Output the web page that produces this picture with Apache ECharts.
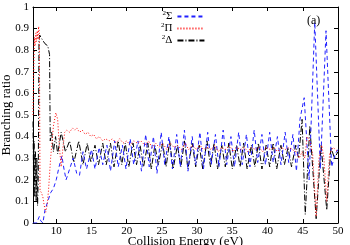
<!DOCTYPE html>
<html><head><meta charset="utf-8">
<script src="https://cdn.jsdelivr.net/npm/echarts@6/dist/echarts.min.js"></script>
<style>html,body{margin:0;padding:0;background:#fff}#c{width:350px;height:245px}</style>
</head><body><div id="c"></div>
<script>
var xTicks = [10, 15, 20, 25, 30, 35, 40, 45, 50];
var seriesNames = ['Σ', 'Π', 'Δ'];

var sigmaE = [6.7,7.2,7.4,7.6,7.8,8.1,8.4,8.8,9.2,9.6,10.0,10.4,10.8,11.1,11.4,11.9,12.4,12.9,13.3,13.8,14.3,
  15.0,15.5,16.1,16.6,17.2,17.7,18.3,18.8,19.4,19.9,20.5,21.0,21.6,22.1,22.7,23.2,23.8,24.3,24.9,25.4,26.0,26.5,
  27.1,27.6,28.2,28.7,29.3,29.8,30.4,30.9,31.5,32.0,32.6,33.1,33.7,34.2,34.8,35.3,35.9,36.4,37.0,37.5,38.1,38.6,
  39.2,39.7,40.3,40.8,41.4,41.9,42.5,43.0,43.6,44.1,44.6,45.2,45.9,46.7,47.5,48.3,49.1,49.6,50.0];
var sigmaV = [0,0,0,0.03,0.01,0,0.06,0.1,0.14,0.16,0.2,0.26,0.31,0.25,0.2,0.25,0.3,0.23,0.22,0.33,0.25,
  0.34,0.25,0.35,0.27,0.36,0.24,0.38,0.26,0.36,0.25,0.39,0.27,0.38,0.24,0.41,0.26,0.4,0.23,0.42,0.27,0.4,0.25,
  0.41,0.26,0.43,0.24,0.4,0.27,0.42,0.25,0.42,0.27,0.41,0.26,0.43,0.27,0.4,0.26,0.42,0.27,0.41,0.26,0.43,0.28,
  0.41,0.27,0.42,0.28,0.4,0.27,0.42,0.28,0.41,0.24,0.48,0.58,0.2,0.93,0.25,0.89,0.26,0.32,0.34];

var piE = [6.7,6.8,6.9,7.0,7.1,7.2,7.3,7.4,7.5,7.6,7.7,7.9,8.1,8.3,8.5,8.7,8.9,9.2,9.6,9.95,10.2,10.45,10.7,10.95,
  11.2,11.5,11.9,12.3,12.6,12.9,13.3,13.7,14.1,14.5,14.9,15.3,15.7,16.1,16.6,17.0,17.5,18.0,18.5,19.0,19.5,20.0,
  20.5,21.0,21.5,22.0,22.6,23.1,23.6,24.1,24.6,25.1,25.7,26.2,26.7,27.2,27.8,28.3,28.8,29.3,29.9,30.4,30.9,31.4,
  32.0,32.5,33.0,33.5,34.1,34.6,35.1,35.6,36.2,36.7,37.2,37.7,38.3,38.8,39.3,39.8,40.4,40.9,41.4,41.9,42.5,43.0,
  43.5,44.0,44.5,44.9,45.3,45.6,46.0,46.4,46.9,47.3,47.7,48.0,48.4,48.8,49.3,50.0];
var piV = [0.5,0.7,0.86,0.82,0.88,0.84,0.89,0.85,0.91,0.88,0.15,0.14,0.12,0.08,0.05,0.08,0.15,0.3,0.45,0.51,0.48,0.35,0.26,0.35,
  0.42,0.43,0.42,0.44,0.43,0.44,0.42,0.43,0.41,0.42,0.4,0.41,0.39,0.4,0.38,0.39,0.38,0.39,0.37,0.39,0.37,0.38,
  0.36,0.38,0.37,0.38,0.36,0.38,0.35,0.37,0.35,0.37,0.34,0.37,0.35,0.36,0.34,0.37,0.34,0.36,0.34,0.36,0.34,0.35,
  0.34,0.36,0.33,0.35,0.34,0.36,0.33,0.35,0.34,0.35,0.33,0.35,0.34,0.35,0.33,0.35,0.34,0.35,0.33,0.35,0.34,0.35,
  0.34,0.33,0.3,0.33,0.3,0.4,0.38,0.32,0.03,0.3,0.36,0.3,0.1,0.32,0.35,0.33];

var deltaE = [6.7,6.78,6.85,6.95,7.05,7.15,7.25,7.35,7.45,7.55,7.65,8.0,8.4,8.8,9.05,9.15,9.35,9.6,9.9,10.2,10.7,11.3,11.9,
  12.5,13.2,13.8,14.4,14.9,15.5,16.0,16.6,17.1,17.7,18.2,18.8,19.3,19.8,20.3,20.9,21.4,21.9,22.4,23.0,23.5,24.0,
  24.5,25.1,25.6,26.1,26.6,27.2,27.7,28.2,28.7,29.3,29.8,30.3,30.8,31.4,31.9,32.4,32.9,33.5,34.0,34.5,35.0,35.6,
  36.1,36.6,37.1,37.7,38.2,38.7,39.2,39.8,40.3,40.8,41.3,41.9,42.4,42.9,43.4,44.0,44.4,44.9,45.35,46.0,46.9,47.6,
  48.4,49.0,49.5,50.0];
var deltaV = [0.47,0.2,0.38,0.12,0.33,0.1,0.3,0.08,0.22,0.85,0.87,0.85,0.83,0.82,0.78,0.38,0.42,0.33,0.4,0.32,0.42,0.33,0.38,
  0.28,0.38,0.27,0.37,0.28,0.36,0.27,0.37,0.27,0.37,0.26,0.38,0.27,0.37,0.26,0.37,0.27,0.36,0.26,0.37,0.25,0.36,
  0.27,0.37,0.26,0.38,0.25,0.36,0.26,0.38,0.25,0.37,0.26,0.36,0.25,0.38,0.26,0.37,0.25,0.36,0.26,0.37,0.25,0.36,
  0.26,0.37,0.25,0.36,0.26,0.37,0.25,0.36,0.26,0.37,0.25,0.36,0.27,0.35,0.26,0.36,0.3,0.48,0.04,0.45,0.02,0.36,
  0.06,0.35,0.3,0.33];

function pairs(xs, ys) { return xs.map(function (x, i) { return [x, ys[i]]; }); }

var FONT = '"Liberation Serif", "DejaVu Serif", serif';
var chart = echarts.init(document.getElementById('c'), null, {renderer: 'canvas'});
var axisCommon = {
  axisLine: {show: true, onZero: false, lineStyle: {color: '#000', width: 1}},
  splitLine: {show: false}
};
chart.setOption({
  animation: false,
  backgroundColor: '#fff',
  grid: {left: 33, right: 12, top: 7, bottom: 22, containLabel: false, outerBoundsMode: 'none'},
  title: {text: '(a)', left: 302, top: 10, textStyle: {fontFamily: FONT, fontSize: 12, fontWeight: 'normal', color: '#000'}},
  legend: {
    orient: 'vertical', left: 156, top: 5, align: 'right', itemWidth: 27, itemHeight: 6, itemGap: 0,
    data: seriesNames,
    itemStyle: {opacity: 0},
    formatter: function (n) { return '{s|2}{b|' + n + '}'; },
    textStyle: {
      fontFamily: FONT, color: '#000', lineHeight: 9,
      rich: {s: {fontSize: 7, fontFamily: FONT, padding: [0, 0, 6, 0]}, b: {fontSize: 11, fontFamily: FONT}}
    }
  },
  xAxis: [
    Object.assign({type: 'value', min: 6.7, max: 50, position: 'bottom',
      name: 'Collision Energy (eV)', nameLocation: 'middle', nameGap: 12, nameMoveOverlap: false,
      nameTextStyle: {fontFamily: FONT, fontSize: 13, color: '#000'},
      axisTick: {show: true, inside: true, length: 4, customValues: xTicks, lineStyle: {color: '#000'}},
      axisLabel: {customValues: xTicks, fontFamily: FONT, fontSize: 11, color: '#000', margin: 3}}, axisCommon),
    Object.assign({type: 'value', min: 6.7, max: 50, position: 'top',
      axisTick: {show: true, inside: true, length: 4, customValues: xTicks, lineStyle: {color: '#000'}},
      axisLabel: {show: false}}, axisCommon)
  ],
  yAxis: [
    Object.assign({type: 'value', min: 0, max: 1, interval: 0.1, position: 'left',
      name: 'Branching ratio', nameLocation: 'middle', nameGap: 20, nameMoveOverlap: false,
      nameTextStyle: {fontFamily: FONT, fontSize: 13, color: '#000'},
      axisTick: {show: true, inside: true, length: 4, lineStyle: {color: '#000'}},
      axisLabel: {fontFamily: FONT, fontSize: 11, color: '#000', margin: 4,
        formatter: function (v) { return String(Math.round(v * 10) / 10); }}}, axisCommon),
    Object.assign({type: 'value', min: 0, max: 1, interval: 0.1, position: 'right',
      axisTick: {show: true, inside: true, length: 4, lineStyle: {color: '#000'}},
      axisLabel: {show: false}}, axisCommon)
  ],
  series: [
    {name: 'Σ', type: 'line', data: pairs(sigmaE, sigmaV), symbol: 'none', z: 3,
      lineStyle: {color: '#2020ff', width: 1, type: [4, 3]}, itemStyle: {color: '#2020ff'}},
    {name: 'Π', type: 'line', data: pairs(piE, piV), symbol: 'none', z: 4,
      lineStyle: {color: '#ff0000', width: 1, type: [1, 2]}, itemStyle: {color: '#ff0000'}},
    {name: 'Δ', type: 'line', data: pairs(deltaE, deltaV), symbol: 'none', z: 2,
      lineStyle: {color: '#000', width: 1, type: [6, 2, 1, 2]}, itemStyle: {color: '#000'}}
  ]
});
</script></body></html>
